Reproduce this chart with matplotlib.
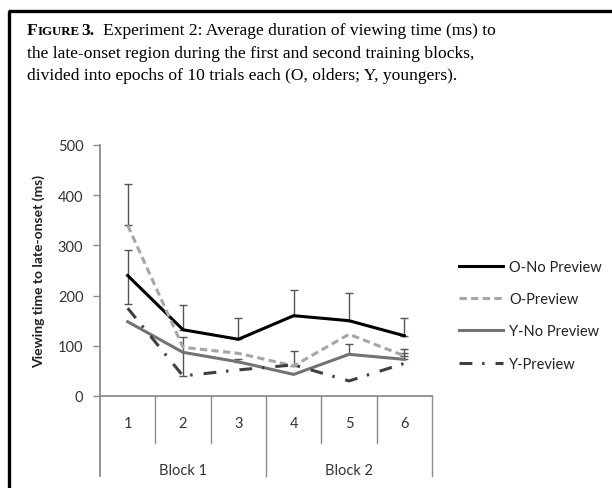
import matplotlib
matplotlib.use("Agg")
import matplotlib.pyplot as plt
from matplotlib.lines import Line2D
import numpy as np

epochs = ["1", "2", "3", "4", "5", "6"]
blocks = ["Block 1", "Block 2"]
series_names = ["O-No Preview", "O-Preview", "Y-No Preview", "Y-Preview"]
o_no = [240, 132, 113, 160, 150, 120]
o_pre = [340, 97, 85, 60, 123, 80]
y_no = [148, 87, 68, 43, 83, 73]
y_pre = [175, 40, 52, 62, 30, 65]
o_no_up = [50, 50, 42, 52, 55, 35]
o_no_dn = [57, 0, 0, 0, 0, 0]
o_pre_up = [82, 0, 0, 30, 0, 13]
y_no_up = [0, 0, 6, 0, 20, 12]
y_pre_up = [0, 78, 0, 0, 0, 0]

W, H = 612, 489
fig = plt.figure(figsize=(W / 100, H / 100), dpi=100)

def fx(px):
    return px / W

def fy(py):
    return 1 - py / H

# outer frame (left and top edges)
fig.add_artist(Line2D([fx(9), fx(9)], [fy(12), 0], color="black", lw=2.4,
                      transform=fig.transFigure, solid_capstyle="butt"))
fig.add_artist(Line2D([fx(8), 1], [fy(12), fy(12)], color="black", lw=2.4,
                      transform=fig.transFigure, solid_capstyle="butt"))

# caption
serif = "Liberation Serif"
fs_cap = 12.6
fig.text(fx(27), fy(35), "F", fontsize=fs_cap, fontweight="bold",
         family=serif, va="baseline")
fig.text(fx(37.5), fy(35), "IGURE", fontsize=fs_cap * 0.74, fontweight="bold",
         family=serif, va="baseline")
fig.text(fx(81.5), fy(35), "3.", fontsize=fs_cap, fontweight="bold",
         family=serif, va="baseline")
fig.text(fx(103), fy(35), "Experiment 2: Average duration of viewing time (ms) to",
         fontsize=fs_cap, family=serif, va="baseline")
fig.text(fx(27), fy(57.5), "the late-onset region during the first and second training blocks,",
         fontsize=fs_cap, family=serif, va="baseline")
fig.text(fx(27), fy(80), "divided into epochs of 10 trials each (O, olders; Y, youngers).",
         fontsize=fs_cap, family=serif, va="baseline")

# axes
left, right, bottom, top = 100, 432, 397, 146
ax = fig.add_axes([fx(left), fy(bottom), fx(right - left), fy(top) - fy(bottom)])
x = np.arange(len(epochs))
ax.set_xlim(-0.5, len(epochs) - 0.5)
ax.set_ylim(0, 500)

fam = ["Lato", "DejaVu Sans"]
fs = 10.5
axis_gray = "#8c8c8c"
for s in ["top", "right", "left"]:
    ax.spines[s].set_visible(False)
ax.spines["bottom"].set_color(axis_gray)
ax.spines["bottom"].set_linewidth(1.3)
ax.set_xticks([])
ax.set_yticks([0, 100, 200, 300, 400, 500])
ax.tick_params(axis="y", length=5, color=axis_gray, width=1.0, labelsize=fs,
               pad=7, labelcolor="#333333")
for lab in ax.get_yticklabels():
    lab.set_family(fam)

# left axis line extending to bottom of category labels
ax.add_line(Line2D([-0.5, -0.5], [0, 1], transform=ax.get_xaxis_transform(),
                   color=axis_gray, lw=1.3, clip_on=False))
ylow_minor = -(444 - bottom) / (bottom - top)
ylow_major = -(477 - bottom) / (bottom - top)
ax.add_line(Line2D([-0.5, -0.5], [ylow_major, 0], transform=ax.get_xaxis_transform(),
                   color=axis_gray, lw=1.3, clip_on=False))
for i in range(1, len(epochs) + 1):
    xb = i - 0.5
    ylow = ylow_major if i in (3, 6) else ylow_minor
    ax.add_line(Line2D([xb, xb], [ylow, 0], transform=ax.get_xaxis_transform(),
                       color=axis_gray, lw=1.0, clip_on=False))

for xi, lab in zip(x, epochs):
    ax.text(xi, -(424 - bottom) / (bottom - top), lab, transform=ax.get_xaxis_transform(),
            ha="center", va="center", fontsize=fs, family=fam, color="#333333")
for bi, lab in enumerate(blocks):
    ax.text(1 + 3 * bi, -(471 - bottom) / (bottom - top), lab,
            transform=ax.get_xaxis_transform(), ha="center", va="center",
            fontsize=fs, family=fam, color="#333333")

ax.set_ylabel("Viewing time to late-onset (ms)", fontsize=10, fontweight="bold",
              family=fam, labelpad=9, color="#222222")

lw = 2.2
styles = [
    dict(color="black", ls="-"),
    dict(color="#a6a6a6", ls=(0, (2.4, 1.4))),
    dict(color="#737373", ls="-"),
    dict(color="#404040", ls=(0, (4.2, 3.2, 0.8, 3.6))),
]
values = [o_no, o_pre, y_no, y_pre]
errs = [(o_no_dn, o_no_up), ([0] * 6, o_pre_up), ([0] * 6, y_no_up), ([0] * 6, y_pre_up)]
handles = []
for name, vals, st, (dn, up) in zip(series_names, values, styles, errs):
    up = np.array(up, float)
    dn = np.array(dn, float)
    mask = (up > 0) | (dn > 0)
    ax.errorbar(x[mask], np.array(vals)[mask], yerr=[dn[mask], up[mask]], fmt="none",
                ecolor="#555555", elinewidth=1.0, capsize=3.2, capthick=1.0, zorder=2)
    h, = ax.plot(x, vals, color=st["color"], linestyle=st["ls"], lw=lw, label=name,
                 zorder=3, solid_joinstyle="miter")
    handles.append(h)

leg = fig.legend(handles=handles, loc="upper left",
                 bbox_to_anchor=(fx(459), fy(261)), frameon=False,
                 handlelength=3.0, handletextpad=0.42, labelspacing=1.25,
                 prop={"family": fam, "size": fs},
                 borderaxespad=0, borderpad=0)
for t in leg.get_texts():
    t.set_color("#222222")

fig.savefig("out.png", dpi=100)
